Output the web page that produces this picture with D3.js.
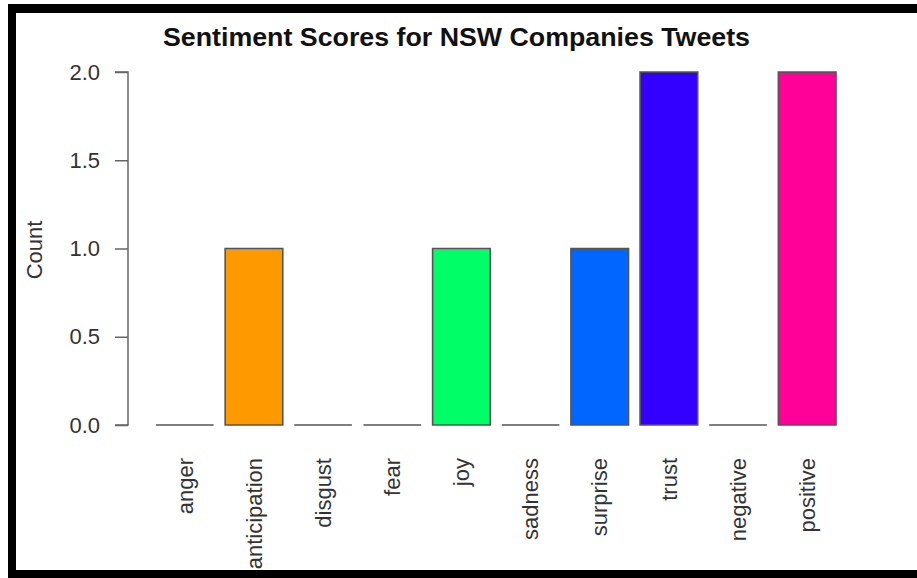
<!DOCTYPE html>
<html>
<head>
<meta charset="utf-8">
<script src="https://cdn.jsdelivr.net/npm/d3@7"></script>
<style>
  html, body { margin: 0; padding: 0; background: #fff; }
  svg { display: block; font-family: "Liberation Sans", Arial, sans-serif; }
</style>
</head>
<body>
<svg id="chart" width="917" height="578"></svg>
<script>
const categories = ["anger","anticipation","disgust","fear","joy","sadness","surprise","trust","negative","positive"];
const counts = [0, 1, 0, 0, 1, 0, 1, 2, 0, 2];
const barColors = ["#FF0000","#FF9900","#CCFF00","#33FF00","#00FF66","#00FFFF","#0066FF","#3300FF","#CC00FF","#FF0099"];
const yTicks = [0, 0.5, 1, 1.5, 2];
const titleText = "Sentiment Scores for NSW Companies Tweets";
const yLabel = "Count";

const svg = d3.select("#chart");
svg.append("rect").attr("width", 917).attr("height", 578).attr("fill", "#fff");

const x = d3.scaleBand().domain(categories).range([156, 836])
  .paddingInner(0.2 / 1.2).paddingOuter(0);
const y = d3.scaleLinear().domain([0, 2]).range([425, 72]);

// bars (paths so zero-height bars still show their outline)
svg.append("g").selectAll("path").data(categories).join("path")
  .attr("d", (d, i) => {
    const x0 = x(d), w = x.bandwidth(), y0 = y(0), y1 = y(counts[i]);
    return `M${x0},${y0}V${y1}H${x0 + w}V${y0}Z`;
  })
  .attr("fill", (d, i) => barColors[i])
  .attr("stroke", "#555")
  .attr("stroke-width", 1.6);

// y axis
const yAxis = d3.axisLeft(y).tickValues(yTicks).tickFormat(d3.format(".1f"))
  .tickSize(13).tickPadding(15);
const gy = svg.append("g").attr("transform", "translate(128,0)").call(yAxis);
gy.select(".domain").attr("stroke", "#666").attr("stroke-width", 1.5)
  .attr("d", `M-13,${y(2)}H0V${y(0)}H-13`);
gy.selectAll(".tick line").attr("stroke", "#666").attr("stroke-width", 1.5);
gy.selectAll(".tick text").attr("font-size", 22).attr("fill", "#333")
  .attr("font-family", "'Liberation Sans', Arial, sans-serif");

// category labels
svg.append("g").selectAll("text").data(categories).join("text")
  .attr("transform", d => `translate(${x(d) + x.bandwidth() / 2},458) rotate(-90)`)
  .attr("text-anchor", "end")
  .attr("dy", "0.35em")
  .attr("font-size", 22)
  .attr("fill", "#333")
  .text(d => d);

// title
svg.append("text").attr("x", 456.5).attr("y", 46).attr("text-anchor", "middle")
  .attr("font-size", 25.5).attr("font-weight", "bold").attr("fill", "#111")
  .attr("textLength", 587).attr("lengthAdjust", "spacingAndGlyphs")
  .text(titleText);

// y label
svg.append("text").attr("transform", "translate(42,250) rotate(-90)")
  .attr("text-anchor", "middle").attr("font-size", 22).attr("fill", "#333")
  .text(yLabel);

// frame border
svg.append("rect").attr("x", 8).attr("y", 4).attr("width", 909).attr("height", 9).attr("fill", "#000");
svg.append("rect").attr("x", 8).attr("y", 4).attr("width", 8).attr("height", 574).attr("fill", "#000");
svg.append("rect").attr("x", 8).attr("y", 570).attr("width", 909).attr("height", 8).attr("fill", "#000");
</script>
</body>
</html>
